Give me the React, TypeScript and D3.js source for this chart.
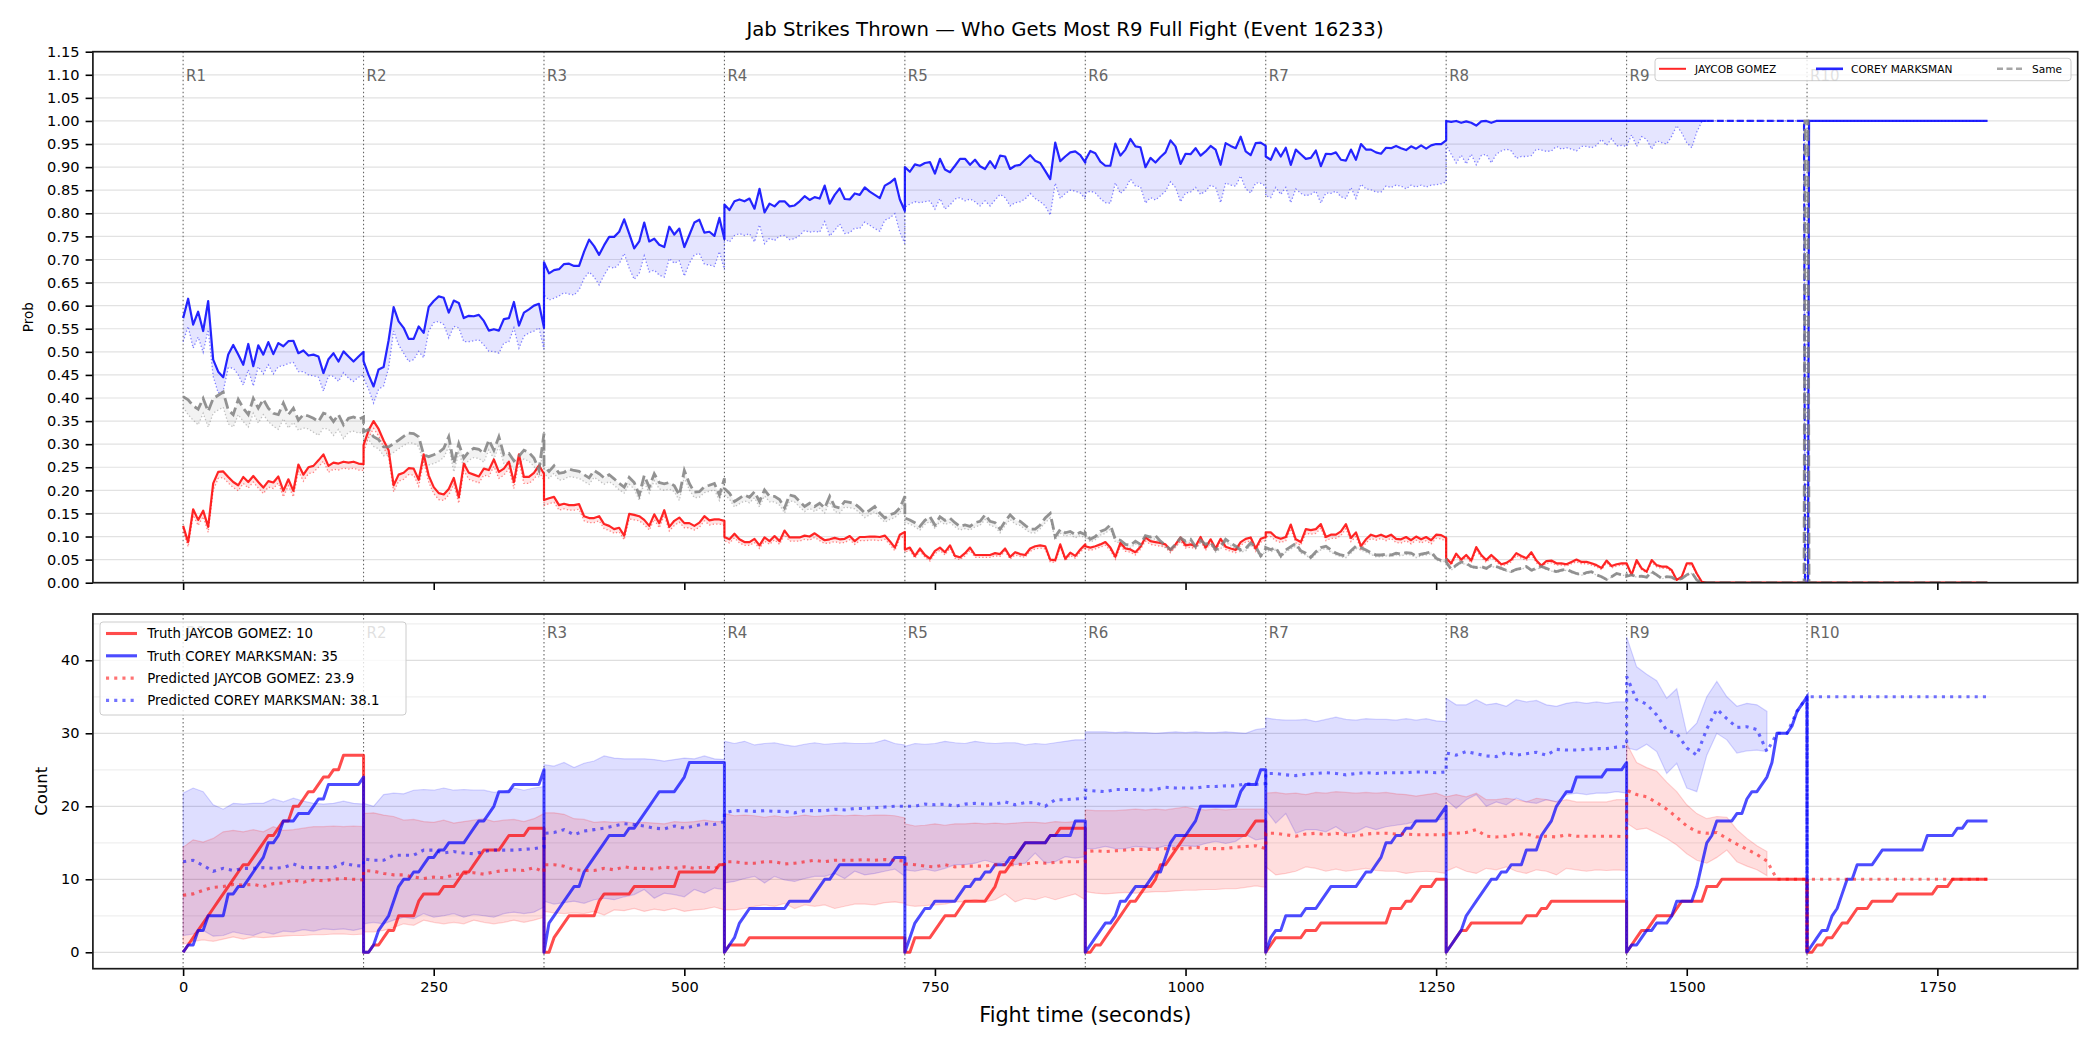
import React, { useEffect, useRef } from 'react'
import * as d3 from 'd3'

const FIGHTER_A = 'JAYCOB GOMEZ'
const FIGHTER_B = 'COREY MARKSMAN'
const ROUND_LEN = 180
const roundNames = ['R1', 'R2', 'R3', 'R4', 'R5', 'R6', 'R7', 'R8', 'R9', 'R10']
const xTicks = [0, 250, 500, 750, 1000, 1250, 1500, 1750]
const probTicks = d3.range(0, 24).map((i) => i * 0.05)
const countTicks = [0, 10, 20, 30, 40]
const countMinor = [5, 15, 25, 35, 45]

// ---- win probability, sampled every 5 s inside each round ----
const PROB_STEP = 5

const probCorey = [
  [0.573, 0.615, 0.559, 0.587, 0.545, 0.61, 0.483, 0.457, 0.445, 0.494, 0.515, 0.494, 0.472, 0.517, 0.469, 0.514, 0.494, 0.521, 0.495, 0.519, 0.512, 0.523, 0.524, 0.497, 0.503, 0.492, 0.494, 0.49, 0.454, 0.484, 0.497, 0.479, 0.501, 0.49, 0.479, 0.49, 0.5],
  [0.48, 0.45, 0.425, 0.462, 0.467, 0.525, 0.597, 0.566, 0.552, 0.528, 0.528, 0.555, 0.541, 0.597, 0.61, 0.62, 0.617, 0.585, 0.611, 0.606, 0.573, 0.578, 0.577, 0.58, 0.567, 0.546, 0.549, 0.546, 0.571, 0.573, 0.608, 0.557, 0.585, 0.592, 0.6, 0.604, 0.552],
  [0.694, 0.67, 0.677, 0.679, 0.69, 0.691, 0.686, 0.686, 0.717, 0.743, 0.729, 0.71, 0.731, 0.749, 0.749, 0.76, 0.787, 0.756, 0.724, 0.739, 0.78, 0.739, 0.745, 0.732, 0.727, 0.771, 0.754, 0.767, 0.727, 0.753, 0.78, 0.786, 0.758, 0.76, 0.751, 0.79, 0.744],
  [0.819, 0.807, 0.826, 0.83, 0.826, 0.832, 0.81, 0.853, 0.802, 0.821, 0.815, 0.826, 0.826, 0.815, 0.817, 0.826, 0.837, 0.829, 0.835, 0.832, 0.86, 0.821, 0.84, 0.854, 0.831, 0.83, 0.843, 0.84, 0.856, 0.847, 0.84, 0.833, 0.86, 0.866, 0.875, 0.83, 0.805],
  [0.9, 0.89, 0.906, 0.903, 0.909, 0.911, 0.886, 0.918, 0.895, 0.889, 0.903, 0.918, 0.918, 0.905, 0.916, 0.902, 0.896, 0.913, 0.898, 0.925, 0.923, 0.896, 0.903, 0.905, 0.916, 0.926, 0.914, 0.909, 0.892, 0.874, 0.953, 0.913, 0.923, 0.932, 0.934, 0.926, 0.91],
  [0.915, 0.935, 0.93, 0.912, 0.903, 0.903, 0.951, 0.925, 0.938, 0.961, 0.945, 0.943, 0.9, 0.92, 0.91, 0.922, 0.932, 0.958, 0.945, 0.907, 0.929, 0.928, 0.941, 0.925, 0.934, 0.946, 0.938, 0.905, 0.952, 0.946, 0.941, 0.966, 0.934, 0.926, 0.952, 0.953, 0.946],
  [0.923, 0.916, 0.941, 0.923, 0.942, 0.905, 0.938, 0.928, 0.918, 0.92, 0.936, 0.902, 0.929, 0.928, 0.932, 0.916, 0.914, 0.938, 0.916, 0.95, 0.938, 0.938, 0.932, 0.929, 0.942, 0.941, 0.946, 0.941, 0.937, 0.945, 0.94, 0.947, 0.94, 0.947, 0.95, 0.95, 0.958],
  [1, 0.998, 1, 0.996, 0.999, 0.996, 0.99, 0.999, 1, 0.996, 1, 1, 1, 1, 1, 1, 1, 1, 1, 1, 1, 1, 1, 1, 1, 1, 1, 1, 1, 1, 1, 1, 1, 1, 1, 1, 1],
  [1, 1, 1, 1, 1, 1, 1, 1, 1, 1, 1, 1, 1, 1, 1, 1, 1],
]
const probCoreyLow = [
  [0.522, 0.555, 0.508, 0.532, 0.499, 0.548, 0.447, 0.411, 0.415, 0.465, 0.465, 0.45, 0.428, 0.461, 0.426, 0.468, 0.452, 0.472, 0.452, 0.468, 0.47, 0.475, 0.477, 0.457, 0.457, 0.45, 0.448, 0.445, 0.415, 0.448, 0.447, 0.436, 0.455, 0.443, 0.436, 0.445, 0.45],
  [0.443, 0.419, 0.389, 0.419, 0.426, 0.465, 0.545, 0.515, 0.497, 0.479, 0.483, 0.501, 0.487, 0.545, 0.563, 0.566, 0.559, 0.53, 0.555, 0.552, 0.522, 0.522, 0.524, 0.526, 0.515, 0.501, 0.501, 0.497, 0.519, 0.522, 0.552, 0.508, 0.534, 0.541, 0.545, 0.552, 0.505],
  [0.623, 0.612, 0.616, 0.621, 0.628, 0.625, 0.623, 0.634, 0.659, 0.673, 0.662, 0.645, 0.666, 0.684, 0.681, 0.69, 0.713, 0.681, 0.657, 0.67, 0.708, 0.673, 0.677, 0.666, 0.662, 0.702, 0.692, 0.697, 0.664, 0.692, 0.71, 0.713, 0.69, 0.688, 0.685, 0.717, 0.677],
  [0.745, 0.738, 0.752, 0.756, 0.752, 0.756, 0.738, 0.775, 0.734, 0.746, 0.741, 0.751, 0.752, 0.743, 0.745, 0.752, 0.763, 0.759, 0.761, 0.759, 0.782, 0.751, 0.763, 0.777, 0.756, 0.758, 0.768, 0.767, 0.781, 0.774, 0.767, 0.761, 0.785, 0.79, 0.799, 0.759, 0.734],
  [0.813, 0.82, 0.825, 0.823, 0.825, 0.827, 0.809, 0.832, 0.809, 0.818, 0.831, 0.834, 0.827, 0.831, 0.825, 0.816, 0.827, 0.816, 0.829, 0.841, 0.834, 0.816, 0.823, 0.825, 0.831, 0.843, 0.832, 0.825, 0.816, 0.796, 0.865, 0.832, 0.843, 0.85, 0.848, 0.844, 0.831],
  [0.843, 0.848, 0.844, 0.832, 0.823, 0.822, 0.866, 0.843, 0.853, 0.874, 0.859, 0.858, 0.822, 0.834, 0.829, 0.838, 0.848, 0.868, 0.856, 0.825, 0.844, 0.846, 0.856, 0.841, 0.848, 0.861, 0.856, 0.823, 0.866, 0.861, 0.859, 0.881, 0.853, 0.844, 0.866, 0.865, 0.859],
  [0.838, 0.834, 0.856, 0.841, 0.856, 0.823, 0.853, 0.843, 0.838, 0.841, 0.848, 0.822, 0.844, 0.843, 0.848, 0.836, 0.832, 0.856, 0.832, 0.863, 0.853, 0.851, 0.846, 0.846, 0.859, 0.856, 0.861, 0.859, 0.853, 0.861, 0.857, 0.861, 0.857, 0.861, 0.862, 0.864, 0.868],
  [0.948, 0.928, 0.909, 0.926, 0.907, 0.928, 0.905, 0.925, 0.928, 0.909, 0.928, 0.935, 0.939, 0.935, 0.919, 0.923, 0.923, 0.925, 0.939, 0.937, 0.934, 0.935, 0.945, 0.939, 0.942, 0.939, 0.935, 0.945, 0.945, 0.942, 0.947, 0.96, 0.947, 0.962, 0.946, 0.947, 0.945],
  [0.945, 0.97, 0.945, 0.966, 0.96, 0.939, 0.957, 0.953, 0.95, 0.967, 0.99, 0.974, 0.953, 0.942, 0.976, 0.998, 1],
]
const probJaycob = [
  [0.123, 0.088, 0.159, 0.136, 0.156, 0.121, 0.215, 0.24, 0.241, 0.229, 0.218, 0.211, 0.229, 0.218, 0.231, 0.218, 0.206, 0.22, 0.217, 0.23, 0.199, 0.224, 0.199, 0.256, 0.234, 0.25, 0.253, 0.265, 0.278, 0.253, 0.26, 0.258, 0.262, 0.26, 0.262, 0.258, 0.257],
  [0.298, 0.33, 0.35, 0.333, 0.308, 0.287, 0.211, 0.234, 0.238, 0.248, 0.247, 0.223, 0.278, 0.232, 0.207, 0.194, 0.191, 0.203, 0.227, 0.185, 0.258, 0.238, 0.234, 0.23, 0.247, 0.244, 0.267, 0.24, 0.247, 0.262, 0.218, 0.278, 0.229, 0.229, 0.238, 0.254, 0.236],
  [0.179, 0.183, 0.186, 0.168, 0.171, 0.168, 0.168, 0.17, 0.144, 0.14, 0.14, 0.144, 0.127, 0.123, 0.116, 0.119, 0.102, 0.149, 0.147, 0.144, 0.136, 0.123, 0.148, 0.129, 0.157, 0.121, 0.134, 0.141, 0.129, 0.129, 0.123, 0.13, 0.144, 0.135, 0.137, 0.137, 0.134],
  [0.099, 0.094, 0.106, 0.094, 0.088, 0.088, 0.095, 0.081, 0.098, 0.09, 0.101, 0.09, 0.113, 0.098, 0.098, 0.098, 0.102, 0.1, 0.107, 0.099, 0.092, 0.094, 0.097, 0.094, 0.095, 0.101, 0.09, 0.099, 0.099, 0.1, 0.1, 0.099, 0.102, 0.09, 0.076, 0.104, 0.11],
  [0.072, 0.076, 0.058, 0.074, 0.06, 0.052, 0.069, 0.076, 0.066, 0.081, 0.058, 0.055, 0.064, 0.076, 0.06, 0.06, 0.06, 0.06, 0.064, 0.062, 0.074, 0.056, 0.066, 0.062, 0.06, 0.074, 0.079, 0.081, 0.079, 0.05, 0.049, 0.083, 0.052, 0.065, 0.058, 0.072, 0.083],
  [0.079, 0.076, 0.079, 0.083, 0.088, 0.076, 0.056, 0.086, 0.074, 0.072, 0.066, 0.078, 0.098, 0.09, 0.088, 0.086, 0.083, 0.071, 0.083, 0.098, 0.081, 0.083, 0.079, 0.099, 0.076, 0.094, 0.074, 0.095, 0.078, 0.074, 0.071, 0.088, 0.095, 0.098, 0.074, 0.095, 0.099],
  [0.109, 0.109, 0.099, 0.095, 0.099, 0.126, 0.094, 0.088, 0.116, 0.114, 0.116, 0.127, 0.099, 0.104, 0.104, 0.111, 0.127, 0.097, 0.109, 0.079, 0.094, 0.104, 0.1, 0.104, 0.099, 0.104, 0.095, 0.094, 0.099, 0.092, 0.1, 0.094, 0.099, 0.092, 0.104, 0.103, 0.097],
  [0.053, 0.042, 0.063, 0.05, 0.06, 0.048, 0.077, 0.06, 0.049, 0.06, 0.05, 0.04, 0.043, 0.05, 0.064, 0.058, 0.053, 0.066, 0.048, 0.037, 0.047, 0.048, 0.042, 0.042, 0.04, 0.045, 0.05, 0.045, 0.045, 0.042, 0.038, 0.032, 0.048, 0.036, 0.04, 0.042, 0.042],
  [0.042, 0.017, 0.049, 0.031, 0.024, 0.049, 0.038, 0.035, 0.035, 0.027, 0.006, 0.013, 0.042, 0.042, 0.02, 0.002, 0],
]
const probJaycobLow = [
  [0.11, 0.078, 0.146, 0.124, 0.143, 0.109, 0.2, 0.226, 0.228, 0.216, 0.206, 0.199, 0.215, 0.205, 0.218, 0.205, 0.193, 0.207, 0.204, 0.216, 0.186, 0.21, 0.186, 0.241, 0.22, 0.236, 0.239, 0.25, 0.263, 0.239, 0.246, 0.244, 0.248, 0.246, 0.248, 0.244, 0.243],
  [0.283, 0.314, 0.334, 0.318, 0.293, 0.272, 0.197, 0.22, 0.224, 0.234, 0.233, 0.209, 0.262, 0.218, 0.193, 0.18, 0.178, 0.19, 0.213, 0.172, 0.243, 0.224, 0.22, 0.216, 0.233, 0.23, 0.252, 0.226, 0.233, 0.247, 0.204, 0.262, 0.215, 0.215, 0.224, 0.24, 0.222],
  [0.167, 0.171, 0.174, 0.157, 0.16, 0.157, 0.157, 0.159, 0.134, 0.13, 0.13, 0.134, 0.117, 0.113, 0.107, 0.11, 0.093, 0.138, 0.136, 0.134, 0.126, 0.114, 0.137, 0.119, 0.146, 0.112, 0.124, 0.131, 0.119, 0.119, 0.114, 0.12, 0.134, 0.125, 0.127, 0.127, 0.124],
  [0.091, 0.086, 0.097, 0.086, 0.081, 0.081, 0.087, 0.074, 0.09, 0.083, 0.093, 0.083, 0.104, 0.09, 0.09, 0.09, 0.094, 0.092, 0.098, 0.091, 0.085, 0.086, 0.089, 0.086, 0.087, 0.093, 0.083, 0.091, 0.091, 0.092, 0.092, 0.091, 0.094, 0.083, 0.069, 0.096, 0.101],
  [0.066, 0.07, 0.053, 0.068, 0.055, 0.047, 0.063, 0.07, 0.06, 0.075, 0.053, 0.05, 0.058, 0.07, 0.055, 0.055, 0.055, 0.055, 0.058, 0.057, 0.068, 0.051, 0.06, 0.057, 0.055, 0.068, 0.073, 0.075, 0.073, 0.045, 0.044, 0.077, 0.047, 0.059, 0.053, 0.066, 0.077],
  [0.073, 0.07, 0.073, 0.077, 0.081, 0.07, 0.051, 0.079, 0.068, 0.066, 0.06, 0.072, 0.09, 0.083, 0.081, 0.079, 0.077, 0.065, 0.077, 0.09, 0.075, 0.077, 0.073, 0.091, 0.07, 0.087, 0.068, 0.088, 0.072, 0.068, 0.065, 0.081, 0.088, 0.09, 0.068, 0.088, 0.091],
  [0.1, 0.1, 0.091, 0.087, 0.091, 0.117, 0.086, 0.081, 0.107, 0.105, 0.107, 0.118, 0.091, 0.096, 0.096, 0.102, 0.117, 0.089, 0.1, 0.072, 0.086, 0.096, 0.092, 0.096, 0.091, 0.096, 0.087, 0.086, 0.091, 0.084, 0.092, 0.086, 0.091, 0.084, 0.096, 0.095, 0.089],
  [0.048, 0.038, 0.058, 0.045, 0.055, 0.043, 0.071, 0.055, 0.044, 0.055, 0.045, 0.036, 0.039, 0.045, 0.059, 0.053, 0.048, 0.061, 0.043, 0.033, 0.042, 0.043, 0.038, 0.038, 0.036, 0.041, 0.045, 0.041, 0.041, 0.038, 0.034, 0.028, 0.043, 0.032, 0.036, 0.038, 0.038],
  [0.038, 0.015, 0.044, 0.028, 0.021, 0.044, 0.034, 0.031, 0.031, 0.024, 0.005, 0.011, 0.038, 0.038, 0.018, 0.001, 0],
]
const probSame = [
  [0.403, 0.396, 0.383, 0.376, 0.399, 0.371, 0.399, 0.406, 0.413, 0.374, 0.364, 0.397, 0.378, 0.364, 0.399, 0.378, 0.397, 0.378, 0.367, 0.364, 0.389, 0.364, 0.378, 0.352, 0.364, 0.361, 0.356, 0.349, 0.367, 0.364, 0.349, 0.364, 0.342, 0.356, 0.359, 0.354, 0.359],
  [0.327, 0.332, 0.316, 0.31, 0.294, 0.294, 0.301, 0.309, 0.317, 0.324, 0.323, 0.316, 0.277, 0.273, 0.277, 0.282, 0.291, 0.316, 0.258, 0.301, 0.27, 0.284, 0.291, 0.289, 0.28, 0.309, 0.287, 0.316, 0.277, 0.28, 0.264, 0.274, 0.287, 0.282, 0.27, 0.244, 0.323],
  [0.253, 0.241, 0.253, 0.237, 0.239, 0.246, 0.243, 0.241, 0.234, 0.227, 0.243, 0.236, 0.227, 0.234, 0.225, 0.215, 0.207, 0.228, 0.217, 0.19, 0.232, 0.207, 0.236, 0.217, 0.214, 0.217, 0.21, 0.19, 0.243, 0.215, 0.196, 0.197, 0.208, 0.211, 0.215, 0.19, 0.226],
  [0.204, 0.194, 0.176, 0.183, 0.19, 0.185, 0.197, 0.176, 0.201, 0.187, 0.187, 0.18, 0.162, 0.19, 0.187, 0.176, 0.165, 0.172, 0.165, 0.172, 0.162, 0.187, 0.165, 0.162, 0.176, 0.174, 0.171, 0.162, 0.151, 0.157, 0.165, 0.151, 0.14, 0.147, 0.151, 0.162, 0.187],
  [0.14, 0.136, 0.13, 0.122, 0.135, 0.143, 0.125, 0.143, 0.135, 0.14, 0.13, 0.122, 0.125, 0.122, 0.13, 0.133, 0.147, 0.133, 0.13, 0.116, 0.133, 0.147, 0.136, 0.133, 0.124, 0.116, 0.116, 0.125, 0.14, 0.15, 0.1, 0.115, 0.108, 0.111, 0.104, 0.109, 0.104],
  [0.108, 0.094, 0.1, 0.111, 0.115, 0.125, 0.094, 0.092, 0.083, 0.081, 0.09, 0.083, 0.102, 0.099, 0.102, 0.09, 0.081, 0.072, 0.083, 0.097, 0.09, 0.094, 0.078, 0.092, 0.083, 0.088, 0.071, 0.078, 0.094, 0.086, 0.079, 0.071, 0.074, 0.086, 0.078, 0.058, 0.074],
  [0.076, 0.072, 0.076, 0.058, 0.071, 0.078, 0.085, 0.069, 0.064, 0.055, 0.067, 0.076, 0.079, 0.071, 0.064, 0.06, 0.058, 0.069, 0.079, 0.076, 0.071, 0.065, 0.06, 0.06, 0.062, 0.06, 0.064, 0.062, 0.065, 0.064, 0.058, 0.062, 0.064, 0.067, 0.053, 0.048, 0.05],
  [0.045, 0.029, 0.038, 0.045, 0.042, 0.035, 0.033, 0.035, 0.031, 0.038, 0.035, 0.031, 0.027, 0.024, 0.029, 0.031, 0.035, 0.027, 0.031, 0.035, 0.031, 0.027, 0.024, 0.027, 0.029, 0.024, 0.02, 0.017, 0.022, 0.024, 0.017, 0.013, 0.007, 0.013, 0.02, 0.017, 0.017],
  [0.014, 0.017, 0.013, 0.014, 0.012, 0.024, 0.017, 0.009, 0.013, 0.012, 0.006, 0.009, 0.017, 0.022, 0.006, 0, 0],
]
const probSameLow = [
  [0.38, 0.364, 0.352, 0.342, 0.367, 0.337, 0.367, 0.374, 0.38, 0.344, 0.337, 0.364, 0.349, 0.337, 0.367, 0.346, 0.364, 0.349, 0.339, 0.332, 0.355, 0.335, 0.347, 0.33, 0.335, 0.333, 0.326, 0.319, 0.335, 0.332, 0.319, 0.332, 0.312, 0.326, 0.328, 0.324, 0.327],
  [0.305, 0.31, 0.295, 0.29, 0.275, 0.276, 0.282, 0.29, 0.297, 0.303, 0.302, 0.295, 0.258, 0.255, 0.258, 0.263, 0.271, 0.295, 0.24, 0.281, 0.252, 0.265, 0.271, 0.269, 0.261, 0.288, 0.268, 0.295, 0.258, 0.261, 0.246, 0.256, 0.268, 0.263, 0.252, 0.228, 0.3],
  [0.237, 0.226, 0.237, 0.222, 0.224, 0.23, 0.228, 0.226, 0.219, 0.213, 0.228, 0.221, 0.213, 0.219, 0.211, 0.201, 0.194, 0.213, 0.203, 0.178, 0.217, 0.194, 0.221, 0.203, 0.2, 0.203, 0.197, 0.178, 0.228, 0.201, 0.184, 0.185, 0.195, 0.198, 0.201, 0.178, 0.212],
  [0.19, 0.181, 0.164, 0.171, 0.177, 0.173, 0.184, 0.164, 0.188, 0.175, 0.175, 0.168, 0.151, 0.177, 0.175, 0.164, 0.154, 0.161, 0.154, 0.161, 0.151, 0.175, 0.154, 0.151, 0.164, 0.162, 0.16, 0.151, 0.141, 0.147, 0.154, 0.141, 0.131, 0.137, 0.141, 0.151, 0.175],
  [0.13, 0.127, 0.121, 0.114, 0.126, 0.133, 0.117, 0.133, 0.126, 0.13, 0.121, 0.114, 0.117, 0.114, 0.121, 0.124, 0.137, 0.124, 0.121, 0.108, 0.124, 0.137, 0.127, 0.124, 0.116, 0.108, 0.108, 0.117, 0.13, 0.14, 0.093, 0.107, 0.101, 0.104, 0.097, 0.102, 0.097],
  [0.1, 0.088, 0.093, 0.103, 0.107, 0.116, 0.088, 0.086, 0.077, 0.075, 0.084, 0.077, 0.095, 0.092, 0.095, 0.084, 0.075, 0.067, 0.077, 0.09, 0.084, 0.088, 0.073, 0.086, 0.077, 0.082, 0.066, 0.073, 0.088, 0.08, 0.074, 0.066, 0.069, 0.08, 0.073, 0.054, 0.069],
  [0.071, 0.067, 0.071, 0.054, 0.066, 0.073, 0.079, 0.064, 0.06, 0.051, 0.062, 0.071, 0.074, 0.066, 0.06, 0.056, 0.054, 0.064, 0.074, 0.071, 0.066, 0.061, 0.056, 0.056, 0.058, 0.056, 0.06, 0.058, 0.061, 0.06, 0.054, 0.058, 0.06, 0.062, 0.049, 0.045, 0.047],
  [0.042, 0.027, 0.035, 0.042, 0.039, 0.033, 0.031, 0.033, 0.029, 0.035, 0.033, 0.029, 0.025, 0.022, 0.027, 0.029, 0.033, 0.025, 0.029, 0.033, 0.029, 0.025, 0.022, 0.025, 0.027, 0.022, 0.019, 0.016, 0.02, 0.022, 0.016, 0.012, 0.006, 0.012, 0.019, 0.016, 0.016],
  [0.013, 0.016, 0.012, 0.013, 0.011, 0.022, 0.016, 0.008, 0.012, 0.011, 0.005, 0.008, 0.016, 0.02, 0.005, 0, 0],
]

// after the R9 window closes the probabilities are settled
const probTailTimes = [1520, 1617, 1618, 1621, 1622, 1800]
const probTailCorey = [1, 1, 0, 0, 1, 1]
const probTailJaycob = [0, 0, 0, 0, 0, 0]
const probTailSame = [0, 0, 1, 1, 0, 0]

// ---- strike counts: truth every 5 s, predictions every 10 s ----
const TRUTH_STEP = 5
const PRED_STEP = 10

const truthJaycob = [
  [0, 1, 2, 3, 4, 5, 6, 7, 8, 9, 10, 11, 12, 12, 13, 14, 15, 16, 16, 17, 18, 18, 20, 20, 21, 22, 22, 23, 24, 24, 25, 25, 27, 27, 27, 27, 27],
  [0, 0, 1, 1, 2, 3, 3, 5, 5, 5, 5, 7, 8, 8, 8, 8, 9, 9, 9, 10, 11, 11, 12, 13, 14, 14, 14, 14, 15, 16, 16, 16, 16, 17, 17, 17, 17],
  [0, 0, 2, 3, 4, 5, 5, 5, 5, 5, 5, 7, 8, 8, 8, 8, 8, 8, 9, 9, 9, 9, 9, 9, 9, 9, 9, 11, 11, 11, 11, 11, 11, 11, 11, 12, 12],
  [0, 1, 1, 1, 1, 2, 2, 2, 2, 2, 2, 2, 2, 2, 2, 2, 2, 2, 2, 2, 2, 2, 2, 2, 2, 2, 2, 2, 2, 2, 2, 2, 2, 2, 2, 2, 2],
  [0, 0, 2, 2, 2, 2, 3, 4, 5, 5, 5, 6, 7, 7, 7, 7, 7, 8, 9, 11, 11, 12, 13, 14, 15, 15, 15, 15, 15, 16, 16, 17, 17, 17, 17, 17, 17],
  [0, 0, 1, 1, 2, 3, 4, 5, 6, 7, 7, 8, 9, 9, 10, 12, 12, 13, 14, 15, 16, 16, 16, 16, 16, 16, 16, 16, 16, 16, 16, 16, 16, 17, 18, 18, 18],
  [0, 1, 2, 2, 2, 2, 2, 2, 3, 3, 3, 4, 4, 4, 4, 4, 4, 4, 4, 4, 4, 4, 4, 4, 4, 6, 6, 6, 7, 7, 8, 9, 9, 9, 10, 10, 10],
  [0, 1, 2, 3, 3, 4, 4, 4, 4, 4, 4, 4, 4, 4, 4, 4, 5, 5, 5, 6, 6, 7, 7, 7, 7, 7, 7, 7, 7, 7, 7, 7, 7, 7, 7, 7, 7],
  [0, 1, 2, 3, 3, 4, 5, 5, 5, 5, 6, 7, 7, 7, 7, 7, 9, 9, 9, 10, 10, 10, 10, 10, 10, 10, 10, 10, 10, 10, 10, 10, 10, 10, 10, 10, 10],
  [0, 0, 1, 1, 2, 2, 3, 4, 4, 5, 6, 6, 6, 7, 7, 7, 7, 7, 8, 8, 8, 8, 8, 8, 8, 8, 9, 9, 9, 10, 10, 10, 10, 10, 10, 10, 10],
]
const truthCorey = [
  [0, 1, 1, 3, 3, 5, 5, 5, 5, 8, 8, 9, 9, 10, 11, 12, 13, 15, 15, 16, 18, 18, 18, 19, 19, 19, 20, 21, 21, 23, 23, 23, 23, 23, 23, 23, 24],
  [0, 0, 1, 3, 4, 5, 7, 9, 10, 10, 11, 11, 12, 13, 13, 14, 14, 15, 15, 15, 15, 16, 17, 18, 18, 19, 20, 22, 22, 22, 23, 23, 23, 23, 23, 23, 25],
  [0, 4, 5, 6, 7, 8, 9, 9, 11, 12, 13, 14, 15, 16, 16, 16, 16, 17, 17, 18, 19, 20, 21, 22, 22, 22, 22, 23, 24, 26, 26, 26, 26, 26, 26, 26, 26],
  [0, 1, 2, 4, 5, 6, 6, 6, 6, 6, 6, 6, 6, 7, 7, 7, 7, 7, 8, 9, 10, 10, 11, 12, 12, 12, 12, 12, 12, 12, 12, 12, 12, 12, 13, 13, 13],
  [0, 2, 4, 5, 6, 6, 7, 7, 7, 7, 7, 8, 9, 9, 10, 10, 11, 11, 12, 12, 12, 13, 13, 14, 15, 15, 15, 15, 15, 16, 16, 16, 16, 16, 18, 18, 18],
  [0, 1, 2, 3, 4, 4, 5, 7, 7, 8, 9, 9, 9, 10, 11, 11, 13, 15, 16, 16, 16, 17, 18, 20, 20, 20, 20, 20, 20, 20, 20, 22, 23, 23, 23, 25, 25],
  [0, 2, 3, 3, 5, 5, 5, 5, 6, 6, 6, 7, 8, 9, 9, 9, 9, 9, 9, 10, 11, 11, 12, 13, 15, 15, 16, 16, 17, 17, 18, 18, 18, 18, 18, 19, 20],
  [0, 1, 2, 3, 5, 6, 7, 8, 9, 10, 10, 11, 11, 12, 12, 12, 14, 14, 14, 16, 17, 18, 20, 21, 22, 22, 24, 24, 24, 24, 24, 24, 25, 25, 25, 25, 26],
  [0, 1, 1, 2, 3, 3, 4, 4, 4, 5, 7, 7, 7, 7, 9, 12, 15, 16, 18, 18, 18, 18, 19, 19, 21, 22, 22, 23, 24, 26, 30, 30, 30, 31, 33, 34, 35],
  [0, 1, 2, 3, 3, 5, 6, 8, 10, 10, 12, 12, 12, 12, 13, 14, 14, 14, 14, 14, 14, 14, 14, 14, 16, 16, 16, 16, 16, 16, 17, 17, 18, 18, 18, 18, 18],
]

const predJaycob = [
  [7.8, 8.0, 8.5, 8.9, 9.0, 9.3, 9.2, 9.3, 9.0, 9.4, 9.5, 9.9, 9.6, 9.9, 9.8, 10.0, 10.1, 10.0, 9.9],
  [11.2, 11.1, 10.8, 10.6, 10.6, 10.3, 10.1, 10.3, 10.2, 10.6, 10.8, 10.9, 10.7, 11.0, 11.2, 11.3, 11.2, 11.6, 11.0],
  [12.0, 12.0, 11.8, 11.3, 11.2, 11.2, 11.5, 11.3, 11.7, 11.5, 11.5, 11.4, 11.7, 11.5, 11.7, 11.5, 11.7, 11.5, 12.1],
  [12.4, 12.4, 12.2, 12.2, 12.4, 12.4, 12.1, 12.2, 12.4, 12.6, 12.4, 12.6, 12.6, 12.6, 12.7, 12.6, 12.7, 12.6, 12.5],
  [12.1, 12.0, 11.8, 11.7, 12.0, 11.7, 11.8, 11.8, 11.8, 12.0, 12.0, 12.0, 12.1, 12.3, 12.2, 12.3, 12.4, 12.4, 12.4],
  [13.8, 13.9, 13.8, 13.9, 14.0, 14.1, 14.1, 14.1, 14.2, 14.2, 14.2, 14.4, 14.2, 14.2, 14.2, 14.4, 14.5, 14.6, 14.2],
  [16.3, 16.3, 16.1, 15.9, 16.2, 16.3, 16.1, 16.3, 16.1, 15.9, 16.2, 16.3, 16.3, 16.2, 16.2, 16.1, 16.1, 16.1, 16.1],
  [16.3, 16.3, 16.4, 16.8, 15.9, 15.8, 15.9, 16.2, 16.2, 15.8, 15.9, 15.8, 16.1, 15.9, 15.9, 15.9, 15.9, 15.9, 15.8],
  [22.2, 21.6, 21.3, 20.5, 19.6, 18.5, 17.3, 16.5, 16.3, 16.4, 15.6, 14.8, 14.1, 13.4, 12.5, 10, 10, 10, 10],
]
const predCorey = [
  [12.4, 12.6, 11.9, 11.1, 11.5, 11.2, 11.5, 11.5, 11.6, 11.5, 11.6, 12.1, 11.6, 11.6, 11.6, 11.6, 12.2, 11.9, 11.8],
  [12.8, 12.6, 12.6, 13.3, 13.3, 13.3, 14.0, 14.0, 13.6, 13.8, 13.6, 13.5, 13.8, 14.0, 14.0, 14.0, 14.1, 14.2, 14.4],
  [16.3, 16.4, 16.8, 16.1, 16.6, 16.8, 17.0, 17.3, 17.6, 17.5, 17.3, 17.0, 16.9, 17.3, 17.0, 17.3, 17.6, 17.5, 17.9],
  [19.1, 19.4, 19.4, 19.3, 19.4, 19.3, 19.3, 19.1, 19.4, 19.4, 19.4, 19.6, 19.5, 19.7, 19.7, 19.8, 19.9, 20.0, 20.0],
  [20.0, 20.0, 20.3, 20.2, 20.3, 20.0, 20.3, 20.4, 20.3, 20.3, 20.6, 20.2, 20.5, 20.5, 20.0, 20.9, 20.9, 21.0, 21.1],
  [22.2, 22.1, 22.0, 22.3, 22.3, 22.3, 22.2, 22.3, 22.6, 22.5, 22.5, 22.5, 22.7, 22.7, 22.8, 22.8, 23.1, 23.0, 23.1],
  [24.5, 24.5, 24.3, 24.2, 24.4, 24.5, 24.6, 24.5, 24.3, 24.5, 24.6, 24.5, 24.6, 24.6, 24.6, 24.7, 24.7, 24.6, 24.7],
  [27.3, 27.0, 27.5, 27.2, 26.9, 26.8, 27.4, 27.0, 27.2, 27.4, 27.0, 27.8, 27.7, 27.7, 27.8, 27.9, 27.9, 28.1, 28.2],
  [37.8, 34.6, 34.0, 32.5, 30.4, 30.0, 28.0, 27.0, 30.6, 33.3, 32.0, 30.8, 30.9, 30.5, 27.5, 30, 30, 33, 35],
]
// R10: prediction resets, then holds the final totals
const predTailTimes = [1620, 1620, 1800]
const predTailJaycob = [0, 10, 10]
const predTailCorey = [0, 35, 35]

const bandJaycobHigh = [
  [14.4, 15.4, 15.1, 15.6, 16.5, 16.7, 16.5, 16.8, 16.5, 17.2, 16.7, 16.8, 17.0, 17.2, 17.2, 17.3, 17.2, 17.3, 17.2],
  [19.0, 19.1, 18.8, 18.6, 18.1, 18.2, 17.9, 17.8, 18.1, 17.7, 17.9, 18.1, 18.3, 17.9, 18.1, 18.2, 17.9, 18.3, 19.0],
  [19.1, 19.1, 18.9, 18.3, 18.2, 17.8, 17.9, 17.8, 17.9, 17.7, 17.8, 17.7, 17.6, 17.9, 17.8, 17.9, 18.1, 17.9, 17.9],
  [19.0, 18.7, 18.8, 18.7, 18.5, 18.7, 18.5, 18.6, 18.8, 18.6, 18.7, 18.8, 18.7, 18.8, 18.7, 18.8, 18.8, 18.7, 18.4],
  [17.6, 17.3, 17.4, 17.6, 17.4, 17.6, 17.6, 17.7, 17.6, 17.7, 17.6, 17.7, 17.8, 17.8, 17.7, 17.9, 17.8, 17.9, 17.8],
  [19.5, 19.4, 19.4, 19.4, 19.5, 19.6, 19.5, 19.6, 19.5, 19.7, 19.9, 19.6, 19.5, 19.6, 19.5, 19.6, 19.6, 19.6, 19.6],
  [21.8, 21.9, 21.7, 21.8, 21.6, 21.9, 21.8, 22.0, 21.9, 21.8, 21.9, 21.8, 21.9, 21.7, 21.6, 21.4, 21.6, 21.8, 21.3],
  [21.3, 21.6, 21.3, 21.8, 20.9, 20.9, 21.1, 20.9, 20.6, 21.1, 20.9, 20.6, 20.9, 20.6, 20.6, 20.6, 20.6, 20.9, 20.9],
  [28.6, 26.0, 25.3, 24.8, 23.3, 22.0, 20.2, 19.0, 18.3, 18.6, 18.5, 16.8, 15.6, 14.6, 13.8],
]
const bandJaycobLow = [
  [1.1, 1.5, 1.7, 1.5, 1.8, 2.1, 1.8, 2.1, 2.0, 2.1, 2.2, 2.3, 2.3, 2.4, 2.4, 2.5, 2.5, 2.4, 2.5],
  [2.8, 2.8, 3.0, 3.4, 3.9, 3.7, 4.4, 4.1, 3.9, 4.1, 3.9, 4.4, 4.1, 3.9, 4.1, 4.4, 4.1, 4.4, 4.8],
  [5.6, 5.4, 5.3, 5.4, 5.3, 5.6, 5.1, 5.8, 5.7, 6.0, 5.6, 5.9, 5.7, 6.0, 5.6, 5.8, 5.9, 6.2, 5.8],
  [5.8, 5.8, 6.0, 6.3, 6.5, 6.3, 6.7, 6.0, 6.5, 6.3, 6.5, 6.0, 6.3, 6.6, 6.6, 6.5, 6.8, 6.9, 6.7],
  [6.5, 6.3, 6.4, 6.5, 6.6, 6.9, 6.9, 7.2, 6.9, 7.2, 8.0, 6.9, 7.4, 7.2, 7.6, 7.2, 7.6, 8.0, 7.2],
  [8.3, 8.1, 8.0, 8.1, 8.2, 8.1, 8.2, 8.3, 8.3, 8.4, 8.5, 8.5, 8.6, 8.6, 8.7, 8.7, 8.9, 9.1, 8.9],
  [11.7, 10.6, 10.8, 11.1, 11.7, 11.5, 11.1, 11.4, 11.1, 11.3, 11.5, 11.2, 11.1, 11.1, 10.8, 11.0, 11.1, 11.0, 10.8],
  [11.1, 11.7, 11.1, 10.8, 11.5, 11.3, 11.7, 11.1, 10.8, 11.3, 11.1, 10.6, 11.5, 11.3, 11.1, 11.3, 11.2, 11.3, 11.2],
  [17.7, 16.8, 17.0, 16.3, 15.6, 14.7, 13.5, 12.6, 12.2, 13.0, 14.0, 12.4, 11.8, 11.3, 10.5],
]
const bandCoreyHigh = [
  [21.8, 22.5, 22.0, 20.2, 19.6, 20.4, 20.3, 20.4, 20.4, 21.0, 20.6, 21.1, 20.7, 20.4, 20.3, 20.4, 20.7, 20.4, 20.3],
  [20.4, 20.0, 21.6, 21.8, 21.7, 22.2, 22.3, 22.2, 22.5, 22.2, 22.3, 22.2, 22.2, 21.9, 22.0, 22.5, 22.2, 22.5, 22.7],
  [25.7, 25.5, 26.0, 25.3, 25.9, 26.2, 26.9, 26.6, 26.5, 26.5, 26.5, 26.4, 26.2, 26.4, 26.6, 26.5, 26.9, 26.5, 26.4],
  [28.9, 28.6, 28.9, 28.4, 28.6, 28.7, 28.4, 28.2, 28.5, 28.7, 28.5, 28.6, 28.7, 28.6, 28.6, 28.7, 29.1, 28.6, 28.4],
  [28.2, 28.6, 28.5, 28.6, 28.9, 28.7, 28.6, 28.9, 28.7, 28.6, 28.7, 28.7, 28.4, 28.6, 28.5, 28.7, 28.9, 29.1, 29.1],
  [30.2, 30.2, 30.2, 30.1, 30.2, 30.1, 30.1, 30.0, 30.1, 30.2, 30.1, 30.2, 30.1, 30.1, 30.2, 30.1, 30.0, 30.5, 30.7],
  [32.1, 31.9, 31.8, 31.8, 31.9, 31.6, 31.9, 32.2, 31.9, 31.8, 32.0, 31.9, 31.9, 31.8, 32.0, 31.8, 32.0, 31.7, 31.6],
  [34.8, 33.9, 33.9, 34.6, 33.9, 34.1, 33.7, 34.6, 34.3, 34.5, 33.9, 33.7, 34.1, 34.3, 34.1, 34.3, 34.1, 34.3, 34.3],
  [43.2, 39.1, 38.1, 37.2, 34.8, 36.1, 30.0, 31.4, 35.0, 37.1, 35.0, 33.7, 34.1, 33.9, 33.0],
]
const bandCoreyLow = [
  [2.3, 2.5, 3.0, 2.2, 2.3, 2.8, 2.5, 2.3, 2.8, 2.5, 2.9, 2.8, 3.1, 2.9, 3.2, 3.1, 3.2, 3.0, 3.3],
  [3.9, 4.1, 3.9, 4.4, 4.8, 4.6, 5.3, 4.8, 5.0, 5.3, 4.8, 5.2, 5.0, 4.8, 5.3, 5.5, 5.3, 5.5, 6.2],
  [7.0, 6.6, 6.8, 7.0, 6.7, 7.2, 7.4, 7.2, 7.6, 7.9, 8.6, 7.4, 8.1, 7.9, 7.6, 8.6, 8.1, 8.8, 8.6],
  [9.5, 9.7, 10.1, 10.4, 9.5, 10.4, 9.9, 9.7, 10.1, 10.4, 10.4, 10.8, 10.1, 11.1, 10.6, 10.8, 11.1, 11.4, 10.4],
  [11.3, 11.1, 11.4, 11.1, 11.5, 12.0, 12.0, 12.2, 12.6, 12.2, 12.4, 12.0, 12.2, 13.6, 12.2, 12.4, 13.1, 12.9, 13.1],
  [14.2, 14.2, 14.5, 14.2, 14.2, 14.5, 14.4, 14.2, 14.6, 14.5, 14.6, 14.5, 14.9, 15.2, 14.9, 15.2, 16.1, 15.4, 15.6],
  [19.5, 17.7, 19.0, 16.3, 16.8, 16.8, 16.5, 17.2, 16.3, 16.5, 17.2, 16.8, 17.2, 17.4, 17.6, 17.9, 18.0, 18.1, 18.3],
  [20.9, 19.7, 20.9, 21.6, 20.0, 20.6, 20.2, 21.1, 20.6, 20.4, 20.9, 20.6, 21.6, 21.8, 21.6, 21.8, 21.8, 22.0, 21.8],
  [28.0, 27.7, 28.5, 27.5, 24.5, 25.9, 22.5, 22.0, 27.0, 30.0, 29.1, 27.3, 27.6, 27.7, 27.5],
]
const predictedTotals = [23.9, 38.1]

type Pt = [number, number]
type Band = [number, number, number]

function byRound(rounds: number[][], step: number): Pt[] {
  const out: Pt[] = []
  rounds.forEach((vals, r) => vals.forEach((v, i) => out.push([r * ROUND_LEN + i * step, v])))
  return out
}
function zipBand(hi: Pt[], lo: Pt[]): Band[] {
  return hi.map((p, i) => [p[0], p[1], lo[i][1]])
}
function tail(times: number[], vals: number[]): Pt[] {
  return times.map((t, i) => [t, vals[i]])
}

const FONT = 'DejaVu Sans, Liberation Sans, sans-serif'
const LEFT = 92.9
const RIGHT = 2077.7
const TOP1 = 51.7
const BOT1 = 582.7
const TOP2 = 614
const BOT2 = 968.7

const RED = 'rgba(255,0,0,0.85)'
const BLUE = 'rgba(0,0,255,0.85)'
const GRAY = 'rgba(128,128,128,0.85)'

export default function App() {
  const svgRef = useRef<SVGSVGElement>(null)

  useEffect(() => {
    if (!svgRef.current) return
    const svg = d3.select(svgRef.current)
    svg.selectAll('*').remove()

    const x = d3.scaleLinear().domain([-90, 1890]).range([LEFT, RIGHT])
    const yP = d3.scaleLinear().domain([0, 1.15]).range([BOT1, TOP1])
    const yC = d3.scaleLinear().domain([-2.25, 46.34]).range([BOT2, TOP2])
    const roundStarts = roundNames.map((_, i) => i * ROUND_LEN)

    const defs = svg.append('defs')
    defs.append('clipPath').attr('id', 'clip-top')
      .append('rect').attr('x', LEFT).attr('y', TOP1).attr('width', RIGHT - LEFT).attr('height', BOT1 - TOP1)
    defs.append('clipPath').attr('id', 'clip-bot')
      .append('rect').attr('x', LEFT).attr('y', TOP2).attr('width', RIGHT - LEFT).attr('height', BOT2 - TOP2)

    svg.append('rect').attr('width', 2100).attr('height', 1050).attr('fill', '#fff')

    svg.append('text')
      .attr('x', 1065).attr('y', 36)
      .attr('text-anchor', 'middle')
      .attr('font-family', FONT).attr('font-size', 19.7)
      .text('Jab Strikes Thrown — Who Gets Most R9 Full Fight (Event 16233)')

    // ---------- top panel: probabilities ----------
    const top = svg.append('g')
    top.selectAll('.grid')
      .data(probTicks)
      .join('line')
      .attr('x1', LEFT).attr('x2', RIGHT)
      .attr('y1', (d) => yP(d)).attr('y2', (d) => yP(d))
      .attr('stroke', '#e2e2e2').attr('stroke-width', 1.2)

    const topPlot = top.append('g').attr('clip-path', 'url(#clip-top)')
    topPlot.selectAll('.rline')
      .data(roundStarts)
      .join('line')
      .attr('x1', (d) => x(d)).attr('x2', (d) => x(d))
      .attr('y1', TOP1).attr('y2', BOT1)
      .attr('stroke', '#666').attr('stroke-width', 1.1).attr('stroke-dasharray', '1.5,2.5')

    const pLine = d3.line<Pt>().x((d) => x(d[0])).y((d) => yP(d[1]))
    const pArea = d3.area<Band>().x((d) => x(d[0])).y0((d) => yP(d[2])).y1((d) => yP(d[1]))

    const probSeries = [
      { hi: probJaycob, lo: probJaycobLow, tailHi: probTailJaycob, tailLo: probTailJaycob, color: RED, fill: 'rgba(255,0,0,0.1)' },
      { hi: probCorey, lo: probCoreyLow, tailHi: probTailCorey, tailLo: probTailCorey, color: BLUE, fill: 'rgba(0,0,255,0.1)' },
      { hi: probSame, lo: probSameLow, tailHi: probTailSame, tailLo: probTailSame, color: GRAY, fill: 'rgba(128,128,128,0.1)' },
    ]
    const built = probSeries.map((s) => {
      const hi = byRound(s.hi, PROB_STEP)
      const lo = byRound(s.lo, PROB_STEP)
      const tHi = tail(probTailTimes, s.tailHi)
      const tLo = tail(probTailTimes, s.tailLo)
      return { ...s, hiPts: hi, loPts: lo, tHi, tLo }
    })

    built.forEach((s) => {
      topPlot.append('path').datum(zipBand(s.hiPts, s.loPts)).attr('d', pArea).attr('fill', s.fill)
    })
    built.forEach((s) => {
      topPlot.append('path').datum([...s.loPts, ...s.tLo]).attr('d', pLine)
        .attr('fill', 'none').attr('stroke', s.color).attr('stroke-opacity', 0.55)
        .attr('stroke-width', 1.3).attr('stroke-dasharray', '1.3,2.2')
    })

    // JAYCOB
    topPlot.append('path').datum([...built[0].hiPts, ...built[0].tHi]).attr('d', pLine)
      .attr('fill', 'none').attr('stroke', RED).attr('stroke-width', 2.2).attr('stroke-linejoin', 'round')
    // COREY: solid through R9, dashed while settled, solid again in R10
    topPlot.append('path').datum(built[1].hiPts).attr('d', pLine)
      .attr('fill', 'none').attr('stroke', BLUE).attr('stroke-width', 2.2).attr('stroke-linejoin', 'round')
    topPlot.append('path').datum(built[1].tHi.slice(0, 3)).attr('d', pLine)
      .attr('fill', 'none').attr('stroke', BLUE).attr('stroke-width', 2.2).attr('stroke-dasharray', '7,3')
    topPlot.append('path').datum(built[1].tHi.slice(2)).attr('d', pLine)
      .attr('fill', 'none').attr('stroke', BLUE).attr('stroke-width', 2.2)
    // Same
    topPlot.append('path').datum([...built[2].hiPts, ...built[2].tHi]).attr('d', pLine)
      .attr('fill', 'none').attr('stroke', GRAY).attr('stroke-width', 2.8).attr('stroke-dasharray', '11,4.5')

    top.selectAll('.rlabel')
      .data(roundStarts)
      .join('text')
      .attr('x', (d) => x(d) + 3).attr('y', TOP1 + 0.03 * (BOT1 - TOP1) + 13)
      .attr('font-family', FONT).attr('font-size', 15).attr('fill', '#666')
      .text((_, i) => roundNames[i])

    // ---------- bottom panel: counts ----------
    const bot = svg.append('g')
    bot.selectAll('.gridMinor')
      .data(countMinor)
      .join('line')
      .attr('x1', LEFT).attr('x2', RIGHT)
      .attr('y1', (d) => yC(d)).attr('y2', (d) => yC(d))
      .attr('stroke', '#efefef').attr('stroke-width', 1.2)
    bot.selectAll('.gridMajor')
      .data(countTicks)
      .join('line')
      .attr('x1', LEFT).attr('x2', RIGHT)
      .attr('y1', (d) => yC(d)).attr('y2', (d) => yC(d))
      .attr('stroke', '#dedede').attr('stroke-width', 1.2)

    const botPlot = bot.append('g').attr('clip-path', 'url(#clip-bot)')
    botPlot.selectAll('.rline')
      .data(roundStarts)
      .join('line')
      .attr('x1', (d) => x(d)).attr('x2', (d) => x(d))
      .attr('y1', TOP2).attr('y2', BOT2)
      .attr('stroke', '#666').attr('stroke-width', 1.1).attr('stroke-dasharray', '1.5,2.5')

    const cLine = d3.line<Pt>().x((d) => x(d[0])).y((d) => yC(d[1]))
    const cArea = d3.area<Band>().x((d) => x(d[0])).y0((d) => yC(d[2])).y1((d) => yC(d[1]))

    const bands = [
      { hi: bandCoreyHigh, lo: bandCoreyLow, color: 'rgba(0,0,255,0.13)', edge: 'rgba(0,0,255,0.16)' },
      { hi: bandJaycobHigh, lo: bandJaycobLow, color: 'rgba(255,0,0,0.13)', edge: 'rgba(255,0,0,0.16)' },
    ]
    bands.forEach((b) => {
      const hi = byRound(b.hi, PRED_STEP)
      const lo = byRound(b.lo, PRED_STEP)
      botPlot.append('path').datum(zipBand(hi, lo)).attr('d', cArea)
        .attr('fill', b.color).attr('stroke', b.edge).attr('stroke-width', 1.2)
    })

    const truth = [
      { data: truthJaycob, color: 'rgba(255,0,0,0.7)' },
      { data: truthCorey, color: 'rgba(0,0,255,0.7)' },
    ]
    truth.forEach((s) => {
      botPlot.append('path').datum(byRound(s.data, TRUTH_STEP)).attr('d', cLine)
        .attr('fill', 'none').attr('stroke', s.color).attr('stroke-width', 3).attr('stroke-linejoin', 'round')
    })

    const preds = [
      { data: predJaycob, tailVals: predTailJaycob, color: 'rgba(255,0,0,0.55)' },
      { data: predCorey, tailVals: predTailCorey, color: 'rgba(0,0,255,0.55)' },
    ]
    preds.forEach((s) => {
      const pts = [...byRound(s.data, PRED_STEP), ...tail(predTailTimes, s.tailVals)]
      botPlot.append('path').datum(pts).attr('d', cLine)
        .attr('fill', 'none').attr('stroke', s.color).attr('stroke-width', 3.1).attr('stroke-dasharray', '3.1,5.1')
    })

    bot.selectAll('.rlabel')
      .data(roundStarts)
      .join('text')
      .attr('x', (d) => x(d) + 3).attr('y', TOP2 + 0.03 * (BOT2 - TOP2) + 13)
      .attr('font-family', FONT).attr('font-size', 15).attr('fill', '#666')
      .text((_, i) => roundNames[i])

    // ---------- axes ----------
    const styleAxis = (g: d3.Selection<SVGGElement, unknown, null, undefined>) => {
      g.select('.domain').remove()
      g.selectAll('.tick line').attr('stroke', '#000').attr('stroke-width', 1.6)
      g.selectAll('.tick text').attr('fill', '#000').attr('font-family', FONT).attr('font-size', 14.6)
    }
    svg.append('g').attr('transform', `translate(${LEFT},0)`)
      .call(d3.axisLeft(yP).tickValues(probTicks).tickFormat(d3.format('.2f')).tickSize(7.3).tickPadding(6))
      .call(styleAxis)
    svg.append('g').attr('transform', `translate(0,${BOT1})`)
      .call(d3.axisBottom(x).tickValues(xTicks).tickFormat(() => '').tickSize(7.3))
      .call(styleAxis)
    svg.append('g').attr('transform', `translate(${LEFT},0)`)
      .call(d3.axisLeft(yC).tickValues(countTicks).tickFormat(d3.format('d')).tickSize(7.3).tickPadding(6))
      .call(styleAxis)
    svg.append('g').attr('transform', `translate(0,${BOT2})`)
      .call(d3.axisBottom(x).tickValues(xTicks).tickFormat(d3.format('d')).tickSize(7.3).tickPadding(6))
      .call(styleAxis)

    ;[[TOP1, BOT1], [TOP2, BOT2]].forEach(([t, b]) => {
      svg.append('rect')
        .attr('x', LEFT).attr('y', t).attr('width', RIGHT - LEFT).attr('height', b - t)
        .attr('fill', 'none').attr('stroke', '#1a1a1a').attr('stroke-width', 1.7)
    })

    svg.append('text')
      .attr('transform', `translate(33,${(TOP1 + BOT1) / 2}) rotate(-90)`)
      .attr('text-anchor', 'middle').attr('font-family', FONT).attr('font-size', 13.5)
      .text('Prob')
    svg.append('text')
      .attr('transform', `translate(47,${(TOP2 + BOT2) / 2}) rotate(-90)`)
      .attr('text-anchor', 'middle').attr('font-family', FONT).attr('font-size', 16.5)
      .text('Count')
    svg.append('text')
      .attr('x', (LEFT + RIGHT) / 2).attr('y', 1022)
      .attr('text-anchor', 'middle').attr('font-family', FONT).attr('font-size', 20.8)
      .text('Fight time (seconds)')

    // ---------- legends ----------
    const topLeg = svg.append('g')
    topLeg.append('rect')
      .attr('x', 1655).attr('y', 58.3).attr('width', 416).attr('height', 22.4).attr('rx', 3)
      .attr('fill', '#fff').attr('fill-opacity', 0.8).attr('stroke', '#cccccc')
    const topItems = [
      { label: FIGHTER_A, color: RED, x: 1659, w: 2, dash: null as string | null, tx: 1695 },
      { label: FIGHTER_B, color: BLUE, x: 1816, w: 2.6, dash: null as string | null, tx: 1851 },
      { label: 'Same', color: 'rgba(128,128,128,0.7)', x: 1997, w: 2.4, dash: '6,3.5' as string | null, tx: 2032 },
    ]
    topItems.forEach((it) => {
      topLeg.append('line')
        .attr('x1', it.x).attr('x2', it.x + 27).attr('y1', 68.8).attr('y2', 68.8)
        .attr('stroke', it.color).attr('stroke-width', it.w)
        .attr('stroke-dasharray', it.dash)
      topLeg.append('text')
        .attr('x', it.tx).attr('y', 72.6)
        .attr('font-family', FONT).attr('font-size', 10.6)
        .text(it.label)
    })

    const lastJ = truthJaycob[8][truthJaycob[8].length - 1]
    const lastC = truthCorey[8][truthCorey[8].length - 1]
    const botLeg = svg.append('g')
    botLeg.append('rect')
      .attr('x', 100).attr('y', 622).attr('width', 306).attr('height', 93).attr('rx', 3)
      .attr('fill', '#fff').attr('fill-opacity', 0.8).attr('stroke', '#cccccc')
    const botItems = [
      { label: `Truth ${FIGHTER_A}: ${lastJ}`, color: 'rgba(255,0,0,0.7)', dash: null as string | null },
      { label: `Truth ${FIGHTER_B}: ${lastC}`, color: 'rgba(0,0,255,0.7)', dash: null as string | null },
      { label: `Predicted ${FIGHTER_A}: ${predictedTotals[0]}`, color: 'rgba(255,0,0,0.55)', dash: '3.1,5.1' as string | null },
      { label: `Predicted ${FIGHTER_B}: ${predictedTotals[1]}`, color: 'rgba(0,0,255,0.55)', dash: '3.1,5.1' as string | null },
    ]
    botItems.forEach((it, i) => {
      const cy = 633.5 + i * 22.3
      botLeg.append('line')
        .attr('x1', 106).attr('x2', 137).attr('y1', cy).attr('y2', cy)
        .attr('stroke', it.color).attr('stroke-width', 3.1)
        .attr('stroke-dasharray', it.dash)
      botLeg.append('text')
        .attr('x', 147.3).attr('y', cy + 4.8)
        .attr('font-family', FONT).attr('font-size', 13.3)
        .text(it.label)
    })
  }, [])

  return (
    <svg
      ref={svgRef}
      width={2100}
      height={1050}
      style={{ position: 'absolute', left: 0, top: 0, display: 'block' }}
    />
  )
}
